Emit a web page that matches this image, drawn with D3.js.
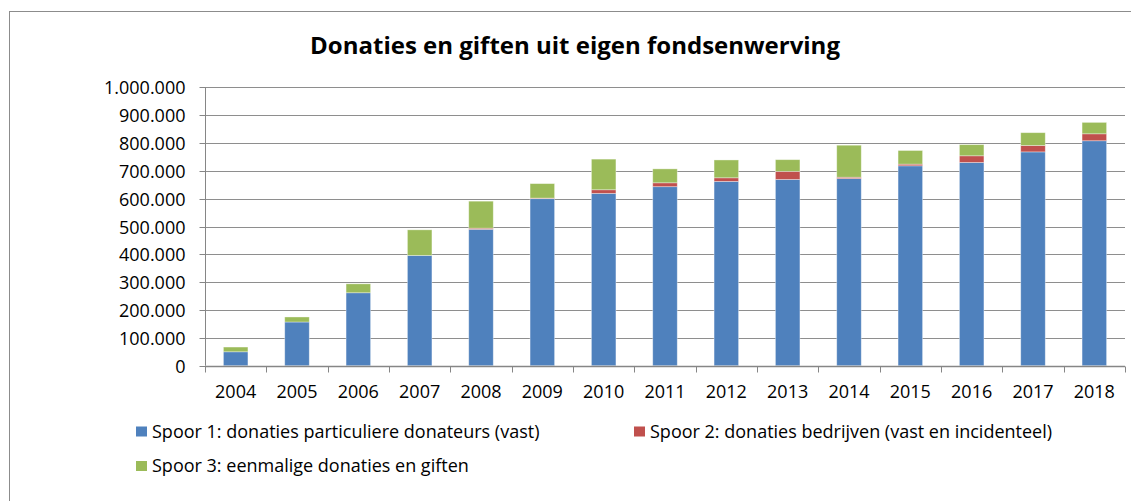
<!DOCTYPE html>
<html>
<head>
<meta charset="utf-8">
<script src="https://cdn.jsdelivr.net/npm/d3@7"></script>
<style>
  body { margin: 0; background: #fff; }
  text { font-family: "Open Sans", sans-serif; fill: #000; }
</style>
</head>
<body>
<div id="chart"></div>
<script>
const width = 1131;
const height = 501;

const years = ["2004", "2005", "2006", "2007", "2008", "2009", "2010", "2011", "2012", "2013", "2014", "2015", "2016", "2017", "2018"];
const spoor1 = [50000, 157000, 262000, 396000, 490000, 600000, 619000, 643000, 662000, 669000, 672000, 718000, 730000, 768000, 808000];
const spoor2 = [0, 0, 0, 0, 4000, 2000, 13000, 14000, 13000, 29000, 5000, 6000, 24000, 23000, 25000];
const spoor3 = [17000, 18000, 32000, 92000, 97000, 52000, 110000, 50000, 64000, 42000, 115000, 49000, 40000, 46000, 41000];
const yTicks = [0, 100000, 200000, 300000, 400000, 500000, 600000, 700000, 800000, 900000, 1000000];
const seriesNames = [
    "Spoor 1: donaties particuliere donateurs (vast)",
    "Spoor 2: donaties bedrijven (vast en incidenteel)",
    "Spoor 3: eenmalige donaties en giften"
];
const colors = ["#4F81BD", "#C0504D", "#9BBB59"];

const rows = years.map((y, i) => ({ year: y, s1: spoor1[i], s2: spoor2[i], s3: spoor3[i] }));

const margin = { left: 205, right: 1125, top: 87.3, bottom: 365.7 };

const svg = d3.select('#chart')
    .append("svg")
    .attr('width', width)
    .attr('height', height);

// outer chart border
svg.append("rect")
    .attr("x", 9.5)
    .attr("y", 11.5)
    .attr("width", width + 20)
    .attr("height", height + 20)
    .style("fill", "none")
    .style("stroke", "#8c8c8c");

const x = d3.scaleBand()
    .domain(years)
    .range([margin.left, margin.right])
    .paddingInner(0.6)
    .paddingOuter(0.3);

const y = d3.scaleLinear()
    .domain([0, 1000000])
    .range([margin.bottom, margin.top]);

const nl = d3.formatLocale({ decimal: ",", thousands: ".", grouping: [3], currency: ["€", ""] });
const fmt = nl.format(",d");

// gridlines
svg.append("g")
    .selectAll("line")
    .data(yTicks)
    .enter()
    .append("line")
    .attr("x1", margin.left)
    .attr("x2", margin.right)
    .attr("y1", d => Math.round(y(d)) + 0.5)
    .attr("y2", d => Math.round(y(d)) + 0.5)
    .style("stroke", "#8e8e8e")
    .style("stroke-width", 1);

// y axis
const yAxis = svg.append("g")
    .attr("transform", `translate(${margin.left + 0.5},0)`)
    .call(d3.axisLeft(y).tickValues(yTicks).tickFormat(fmt).tickSize(6).tickPadding(14));
yAxis.selectAll("line, path").style("stroke", "#868686");
yAxis.select(".domain").attr("d", `M0,${margin.top}V${margin.bottom}`);
yAxis.selectAll("text").style("font-size", "18px").attr("dy", "0.35em");
yAxis.selectAll(".tick").attr("transform", d => `translate(0,${Math.round(y(d)) + 0.5})`);

// stacked bars
const stack = d3.stack().keys(["s1", "s2", "s3"]);
const layers = stack(rows);

svg.append("g")
    .selectAll("g")
    .data(layers)
    .enter()
    .append("g")
    .style("fill", (d, i) => colors[i])
    .selectAll("rect")
    .data(d => d)
    .enter()
    .append("rect")
    .attr("x", d => x(d.data.year))
    .attr("width", x.bandwidth())
    .attr("y", d => y(d[1]))
    .attr("height", d => y(d[0]) - y(d[1]))
    .style("stroke", "rgba(255,255,255,0.45)")
    .style("stroke-width", 0.8);

// x axis
const xAxisY = Math.round(margin.bottom) + 0.5;
svg.append("line")
    .attr("x1", margin.left)
    .attr("x2", margin.right)
    .attr("y1", xAxisY)
    .attr("y2", xAxisY)
    .style("stroke", "#868686")
    .style("stroke-width", 1.5);

const step = x.step();
const boundaries = d3.range(years.length + 1).map(i => margin.left + i * step);
svg.append("g")
    .selectAll("line")
    .data(boundaries)
    .enter()
    .append("line")
    .attr("x1", d => Math.round(d) + 0.5)
    .attr("x2", d => Math.round(d) + 0.5)
    .attr("y1", xAxisY)
    .attr("y2", xAxisY + 6)
    .style("stroke", "#868686");

svg.append("g")
    .selectAll("text")
    .data(years)
    .enter()
    .append("text")
    .attr("x", d => x(d) + x.bandwidth() / 2)
    .attr("y", 398)
    .attr("text-anchor", "middle")
    .style("font-size", "18px")
    .text(d => d);

// title
svg.append("text")
    .attr("x", 575)
    .attr("y", 54)
    .attr("text-anchor", "middle")
    .style("font-size", "24px")
    .style("font-weight", "bold")
    .text("Donaties en giften uit eigen fondsenwerving");

// legend
const legendPos = [[136, 431.5], [634, 431.5], [136, 466]];
const legend = svg.append("g")
    .selectAll("g")
    .data(seriesNames)
    .enter()
    .append("g")
    .attr("transform", (d, i) => `translate(${legendPos[i][0]},${legendPos[i][1]})`);

legend.append("rect")
    .attr("x", 0)
    .attr("y", -5)
    .attr("width", 11)
    .attr("height", 10)
    .style("fill", (d, i) => colors[i]);

legend.append("text")
    .attr("x", 16)
    .attr("y", 0)
    .attr("dy", "0.35em")
    .style("font-size", "18px")
    .text(d => d);
</script>
</body>
</html>
